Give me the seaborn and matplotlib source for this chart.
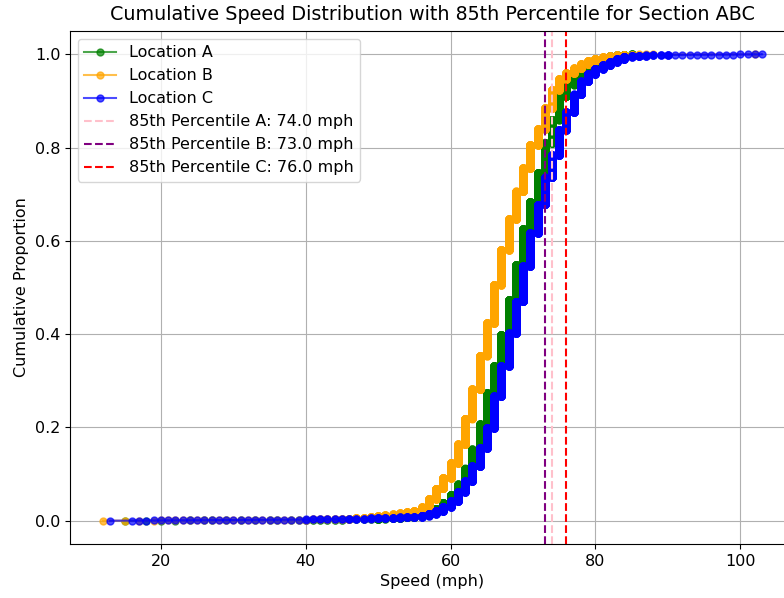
import numpy as np
import pandas as pd
import matplotlib
matplotlib.use("Agg")
import matplotlib.pyplot as plt
import seaborn as sns

# Integer speeds (mph) and number of observed vehicles at each speed
speeds_a = list(range(15, 86))
counts_a = [1, 0, 0, 1, 0, 1, 0, 1, 0, 1, 0, 1, 1, 0, 1, 0, 1, 0, 1, 0, 1, 1, 0, 1, 1,   # 15-39
            2, 2, 2, 2, 2, 2, 2, 2, 2, 2,                                               # 40-49
            11, 7, 8, 10, 12, 18, 30, 50, 80, 130,                                      # 50-59
            170, 220, 340, 410, 540, 670, 580, 670, 750, 750,                           # 60-69
            770, 580, 620, 640, 500, 500, 250, 170, 140, 110,                           # 70-79
            90, 60, 40, 20, 15, 5]                                                      # 80-85

speeds_b = list(range(12, 103))
counts_b = [1, 0, 0, 1, 0, 1, 0, 1, 1,                                                  # 12-20
            1, 1, 1, 1, 1, 1, 1, 1, 1, 1, 1, 1, 1, 1, 1, 1, 1, 1, 1,                    # 21-39
            2, 2, 2, 3, 3, 4, 7, 8, 10, 15,                                             # 40-49
            20, 18, 19, 23, 25, 25, 80, 180, 220, 230,                                  # 50-59
            320, 400, 550, 630, 720, 700, 820, 750, 660, 590,                           # 60-69
            500, 500, 340, 450, 390, 230, 130, 100, 90, 70,                             # 70-79
            50, 30, 20, 20, 10, 5, 2, 1, 1, 0,                                          # 80-89
            0, 0, 0, 0, 0, 0, 0, 0, 0, 0, 0, 0, 1]                                      # 90-102

speeds_c = list(range(13, 104))
counts_c = [1, 0, 0,                                                                    # 13-15
            1, 1, 1, 1, 1, 1, 1, 1, 1, 1, 1, 1, 1, 1, 1, 1, 1, 1, 1, 1, 1, 1, 1, 1,      # 16-39
            2, 2, 2, 2, 2, 2, 3, 3, 3, 4,                                               # 40-49
            5, 5, 6, 6, 6, 7, 25, 40, 60, 90,                                           # 50-59
            120, 200, 230, 320, 390, 430, 680, 650, 700, 680,                           # 60-69
            760, 710, 610, 580, 480, 540, 380, 380, 280, 160,                           # 70-79
            110, 80, 70, 60, 50, 12, 8, 6, 4, 3,                                        # 80-89
            4, 1, 1, 1, 1, 1, 1, 1, 1, 1, 1, 1, 1, 1]                                   # 90-103

locations = ["A", "B", "C"]
colors = ["green", "orange", "blue"]
pct_colors = ["pink", "purple", "red"]

fig = plt.figure(figsize=(7.84, 5.98), dpi=100)
ax = fig.add_axes([70 / 784, 54 / 598, 725 / 784, 513 / 598])

groups = [(speeds_a, counts_a), (speeds_b, counts_b), (speeds_c, counts_c)]
percentiles = []
for loc, col, (sp, ct) in zip(locations, colors, groups):
    samples = np.sort(np.repeat(np.array(sp), np.array(ct)))
    cdf = np.arange(1, len(samples) + 1) / len(samples)
    df = pd.DataFrame({"speed": samples, "cdf": cdf})
    sns.lineplot(data=df, x="speed", y="cdf", ax=ax, color=col, alpha=0.7,
                 estimator=None, drawstyle="steps-post", marker="o",
                 markersize=5, markeredgecolor=col, markeredgewidth=1.0,
                 linewidth=1.5, label=f"Location {loc}")
    percentiles.append(np.percentile(samples, 85))

for loc, pc, p in zip(locations, pct_colors, percentiles):
    ax.axvline(p, color=pc, linestyle="--", linewidth=1.5,
               label=f"85th Percentile {loc}: {p:.1f} mph")

ax.set_title("Cumulative Speed Distribution with 85th Percentile for Section ABC",
             fontsize=13.8, pad=8)
ax.set_xlabel("Speed (mph)", fontsize=11.5)
ax.set_ylabel("Cumulative Proportion", fontsize=11.5)
ax.tick_params(labelsize=11.5)
ax.grid(True)
ax.legend(loc="upper left", fontsize=11.5)

fig.savefig("out.png", dpi=100)
